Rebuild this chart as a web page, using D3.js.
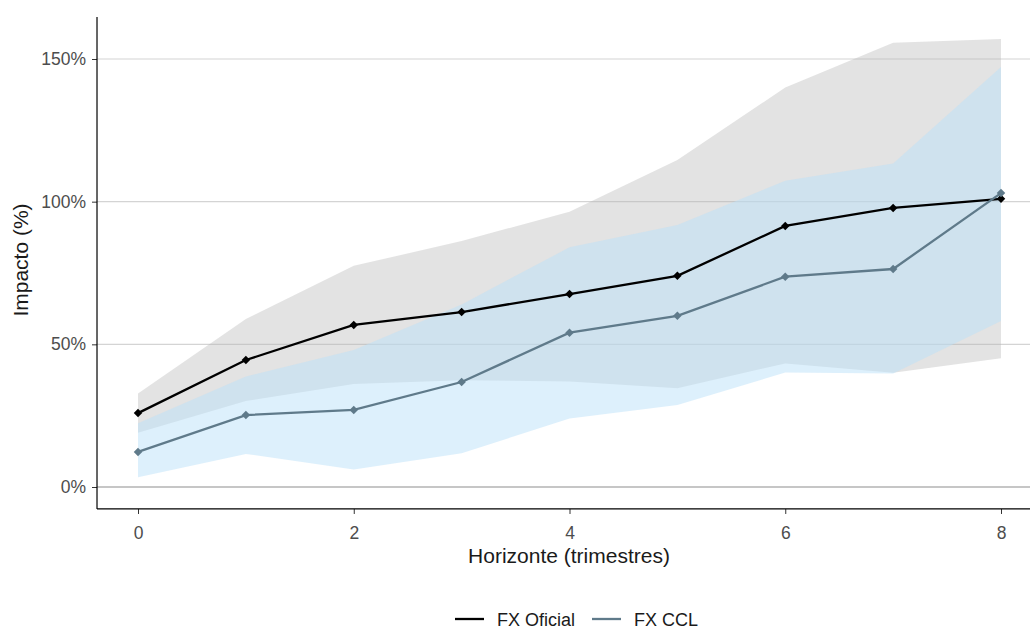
<!DOCTYPE html>
<html>
<head>
<meta charset="utf-8">
<script src="https://cdn.jsdelivr.net/npm/d3@7"></script>
<style>
  body { margin: 0; background: #fff; }
  svg { font-family: "Liberation Sans", Arial, sans-serif; }
  .tick-label { fill: #4d4d4d; font-size: 17.5px; }
  .axis-title { fill: #1a1a1a; font-size: 21px; }
  .legend-label { fill: #1a1a1a; font-size: 18px; }
</style>
</head>
<body>
<div id="chart"></div>
<script>
// horizonte en trimestres
var horizonte = [0, 1, 2, 3, 4, 5, 6, 7, 8];

// FX Oficial: impacto y banda
var oficial   = [25.9, 44.5, 56.8, 61.3, 67.6, 74.0, 91.5, 97.8, 101.0];
var oficialLo = [19.0, 30.1, 36.1, 37.4, 37.0, 34.6, 43.3, 40.0, 45.1];
var oficialHi = [32.8, 58.9, 77.5, 86.2, 96.5, 114.6, 140.0, 155.7, 157.0];

// FX CCL: impacto y banda
var ccl   = [12.3, 25.2, 27.0, 36.8, 54.1, 60.0, 73.7, 76.4, 103.0];
var cclLo = [3.4, 11.6, 6.1, 11.8, 24.0, 28.7, 40.1, 39.8, 58.2];
var cclHi = [22.3, 38.7, 48.0, 64.0, 84.0, 91.8, 107.3, 113.4, 147.2];

var xTicks = [0, 2, 4, 6, 8];
var yTicks = [0, 50, 100, 150];
var seriesNames = ["FX Oficial", "FX CCL"];

var W = 1030, H = 631;

var svg = d3.select("#chart")
    .append("svg")
    .attr("width", W)
    .attr("height", H);

var x = d3.scaleLinear().domain([0, 8]).range([138, 1001]);
var y = d3.scaleLinear().domain([0, 150]).range([487, 59]);

var panelLeft = x(-0.38), panelRight = W;
var panelTop = y(164.7), panelBottom = y(-7.7);

// gridlines
svg.append("g")
    .selectAll("line")
    .data(yTicks)
    .enter().append("line")
    .attr("x1", panelLeft)
    .attr("x2", panelRight)
    .attr("y1", function(d) { return y(d); })
    .attr("y2", function(d) { return y(d); })
    .attr("stroke", function(d) { return d == 0 ? "#b3b3b3" : "#d4d4d4"; })
    .attr("stroke-width", function(d) { return d == 0 ? 1.4 : 1.1; });

function rows(mid, lo, hi) {
    return horizonte.map(function(h, i) {
        return { h: h, v: mid[i], lo: lo[i], hi: hi[i] };
    });
}
var dataOficial = rows(oficial, oficialLo, oficialHi);
var dataCcl = rows(ccl, cclLo, cclHi);

var band = d3.area()
    .x(function(d) { return x(d.h); })
    .y0(function(d) { return y(d.lo); })
    .y1(function(d) { return y(d.hi); });

svg.append("path")
    .datum(dataOficial)
    .attr("d", band)
    .attr("fill", "#b3b3b3")
    .attr("fill-opacity", 0.37);

svg.append("path")
    .datum(dataCcl)
    .attr("d", band)
    .attr("fill", "rgb(187,225,249)")
    .attr("fill-opacity", 0.5);

var line = d3.line()
    .x(function(d) { return x(d.h); })
    .y(function(d) { return y(d.v); });

var diamond = d3.symbol().type(d3.symbolSquare).size(36);

function drawSeries(data, color) {
    svg.append("path")
        .datum(data)
        .attr("d", line)
        .attr("fill", "none")
        .attr("stroke", color)
        .attr("stroke-width", 2.3);

    svg.append("g")
        .selectAll("path")
        .data(data)
        .enter().append("path")
        .attr("d", diamond)
        .attr("transform", function(d) {
            return "translate(" + x(d.h) + "," + y(d.v) + ") rotate(45)";
        })
        .attr("fill", color);
}

drawSeries(dataOficial, "#000000");
drawSeries(dataCcl, "#5f7a8a");

// axes
var xAxis = svg.append("g")
    .attr("transform", "translate(0," + panelBottom + ")")
    .call(d3.axisBottom(x).tickValues(xTicks).tickSize(5).tickPadding(13).tickFormat(d3.format("d")));
xAxis.select(".domain").remove();
xAxis.selectAll(".tick line").attr("stroke", "#333");
xAxis.selectAll(".tick text").attr("class", "tick-label").attr("font-size", null).attr("fill", null);

var yAxis = svg.append("g")
    .attr("transform", "translate(" + panelLeft + ",0)")
    .call(d3.axisLeft(y).tickValues(yTicks).tickSize(5).tickPadding(6)
        .tickFormat(function(d) { return d + "%"; }));
yAxis.select(".domain").remove();
yAxis.selectAll(".tick line").attr("stroke", "#333");
yAxis.selectAll(".tick text").attr("class", "tick-label").attr("font-size", null).attr("fill", null);

svg.append("line")
    .attr("x1", panelLeft).attr("x2", panelLeft)
    .attr("y1", panelTop).attr("y2", panelBottom)
    .attr("stroke", "#000").attr("stroke-width", 1.2);
svg.append("line")
    .attr("x1", panelLeft).attr("x2", panelRight)
    .attr("y1", panelBottom).attr("y2", panelBottom)
    .attr("stroke", "#000").attr("stroke-width", 1.2);

// axis titles
svg.append("text")
    .attr("class", "axis-title")
    .attr("x", 569)
    .attr("y", 563)
    .attr("text-anchor", "middle")
    .text("Horizonte (trimestres)");

svg.append("text")
    .attr("class", "axis-title")
    .attr("transform", "translate(28,260) rotate(-90)")
    .attr("text-anchor", "middle")
    .text("Impacto (%)");

// legend
var legendColors = ["#000000", "#5f7a8a"];
var legendX = [455, 592];
var legend = svg.append("g")
    .selectAll("g")
    .data(seriesNames)
    .enter().append("g")
    .attr("transform", function(d, i) { return "translate(" + legendX[i] + ",619)"; });

legend.append("line")
    .attr("x1", 0).attr("x2", 29)
    .attr("stroke", function(d, i) { return legendColors[i]; })
    .attr("stroke-width", 2.3);

legend.append("text")
    .attr("class", "legend-label")
    .attr("x", 42)
    .attr("y", 7)
    .text(function(d) { return d; });
</script>
</body>
</html>
